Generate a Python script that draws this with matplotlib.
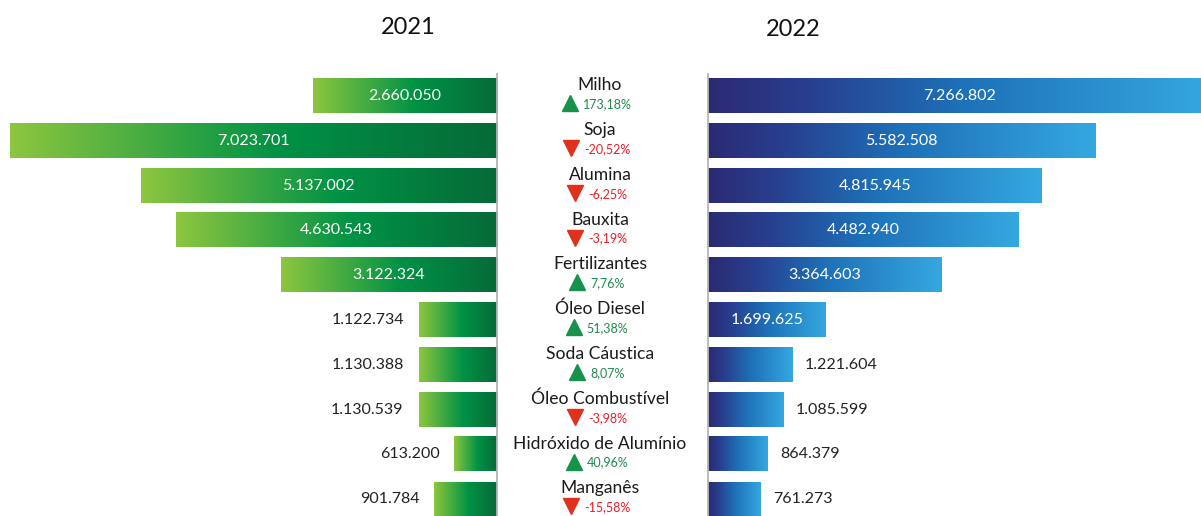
import matplotlib
matplotlib.use("Agg")
import matplotlib.pyplot as plt
import numpy as np
from matplotlib.colors import LinearSegmentedColormap

# dados (toneladas)
categorias = ['Milho', 'Soja', 'Alumina', 'Bauxita', 'Fertilizantes', 'Óleo Diesel',
              'Soda Cáustica', 'Óleo Combustível', 'Hidróxido de Alumínio', 'Manganês']
v2021 = [2660050, 7023701, 5137002, 4630543, 3122324, 1122734, 1130388, 1130539, 613200, 901784]
v2022 = [7266802, 5582508, 4815945, 4482940, 3364603, 1699625, 1221604, 1085599, 864379, 761273]
variacao = [173.18, -20.52, -6.25, -3.19, 7.76, 51.38, 8.07, -3.98, 40.96, -15.58]
anos = ['2021', '2022']

plt.rcParams['font.family'] = ['Lato', 'DejaVu Sans']

W, H = 1201, 516
fig = plt.figure(figsize=(W / 100, H / 100), dpi=100)


def px_axes(x0, x1, y0, y1):
    return fig.add_axes([x0 / W, 1 - y1 / H, (x1 - x0) / W, (y1 - y0) / H])


verdes = LinearSegmentedColormap.from_list('verdes', [(0, '#8dc63f'), (0.55, '#009245'), (1, '#066a38')])
azuis = LinearSegmentedColormap.from_list('azuis', [(0, '#2b2a72'), (0.2, '#283f8f'), (0.5, '#1e70b7'), (1, '#35a8e0')])

escala = 487 / 7023701  # px por tonelada
ylim = (9.375, -0.491)
h = 0.76

axL = px_axes(0, 497, 74, 516)
axR = px_axes(708, 1201, 74, 516)
axM = px_axes(497, 708, 74, 516)

grad = np.linspace(0, 1, 256).reshape(1, -1)

for i, v in enumerate(v2021):
    # coluna 0 em x=0 (lado do centro) -> verde escuro
    axL.imshow(grad[:, ::-1], cmap=verdes, extent=(0, v, i + h / 2, i - h / 2), aspect='auto')
    txt = f"{v:,}".replace(',', '.')
    if v > 1.4e6:
        axL.text(v / 2, i, txt, ha='center', va='center', color='white', fontsize=11.5)
    else:
        axL.text(v + 15 / escala, i, txt, ha='right', va='center', color='#222222', fontsize=11.5)

for i, v in enumerate(v2022):
    axR.imshow(grad, cmap=azuis, extent=(0, v, i + h / 2, i - h / 2), aspect='auto')
    txt = f"{v:,}".replace(',', '.')
    if v > 1.4e6:
        axR.text(v / 2, i, txt, ha='center', va='center', color='white', fontsize=11.5)
    else:
        axR.text(v + 12 / escala, i, txt, ha='left', va='center', color='#222222', fontsize=11.5)

axL.set_xlim(497 / escala, 0)
axR.set_xlim(0, 493 / escala)
for ax in (axL, axR, axM):
    ax.set_ylim(*ylim)
    ax.set_xticks([])
    ax.set_yticks([])
    for s in ax.spines.values():
        s.set_visible(False)
axL.spines['right'].set_visible(True)
axL.spines['right'].set_color('#b5b5b5')
axL.spines['right'].set_linewidth(1.3)
axR.spines['left'].set_visible(True)
axR.spines['left'].set_color('#b5b5b5')
axR.spines['left'].set_linewidth(1.3)

# coluna central
axM.set_xlim(497, 708)
axM.patch.set_alpha(0)
pct_textos = []
for i, (c, p) in enumerate(zip(categorias, variacao)):
    axM.text(600, i - 0.24, c, ha='center', va='center', fontsize=12.6, color='#1a1a1a')
    cor = '#1f8a4c' if p >= 0 else '#e8202a'
    t = axM.text(600, i + 0.18, f"{p:.2f}%".replace('.', ','), ha='left', va='center',
                 fontsize=9, color=cor)
    pct_textos.append(t)

fig.canvas.draw()
r = fig.canvas.get_renderer()
for i, (t, p) in enumerate(zip(pct_textos, variacao)):
    w = t.get_window_extent(r).width
    total = 16 + 5 + w
    x0 = 597 - total / 2
    t.set_x(x0 + 21)
    if p >= 0:
        axM.plot(x0 + 8, i + 0.16, marker='^', markersize=11, color='#16924a', clip_on=False)
    else:
        axM.plot(x0 + 8, i + 0.16, marker='v', markersize=11, color='#e0301e', clip_on=False)

fig.text(408 / W, 1 - 28 / H, anos[0], ha='center', va='center', fontsize=17, color='#111111')
fig.text(793 / W, 1 - 30 / H, anos[1], ha='center', va='center', fontsize=17, color='#111111')

fig.savefig('out.png', dpi=100)
